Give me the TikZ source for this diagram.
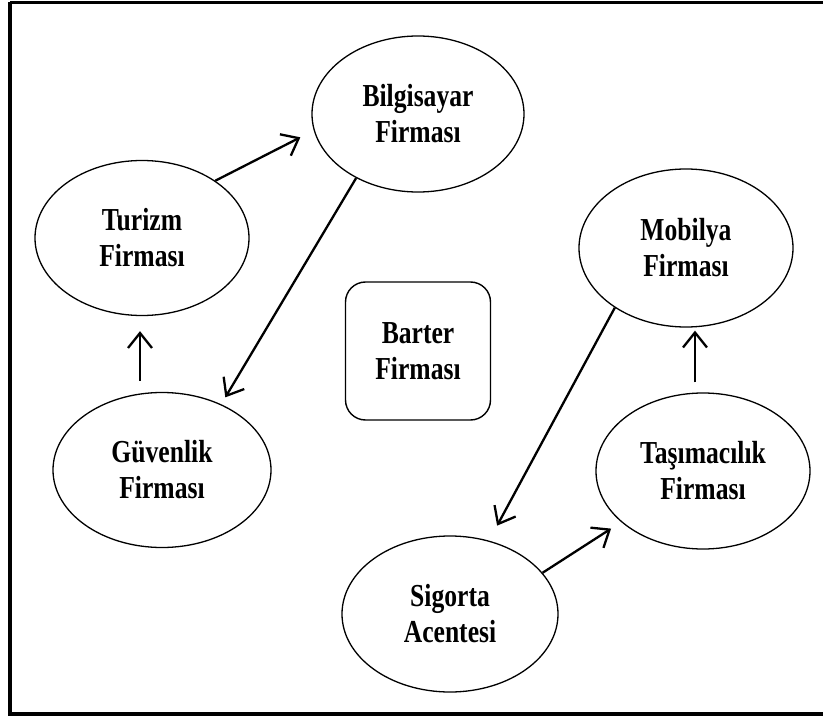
\documentclass[tikz,border=0pt]{standalone}
\usepackage{fontspec}
\setmainfont{Liberation Serif}
\newfontfamily\labfont[FakeStretch=0.8]{Liberation Serif}
\usetikzlibrary{shapes.geometric,arrows.meta}

\begin{document}
\begin{tikzpicture}[x=1pt,y=-1pt,
  firm/.style={ellipse,draw,line width=1.3pt,inner sep=0pt,
    minimum width=214pt,minimum height=155pt,align=center,
    font=\fontsize{32}{36}\selectfont\labfont\bfseries},
  hub/.style={rectangle,draw,line width=1.4pt,rounded corners=20pt,
    inner sep=0pt,minimum width=145pt,minimum height=138pt,align=center,
    font=\fontsize{32}{36}\selectfont\labfont\bfseries},
  arr/.style={line width=2.3pt,
    -{Straight Barb[length=15pt,width=24pt,line width=2.3pt]}},
  frame/.style={line width=3.5pt}
]
\useasboundingbox (0,0) rectangle (823,717);

% outer frame (right side runs past the edge)
\draw[frame] (10,2.5) -- (830,2.5) (10,2.5) -- (10,714) -- (830,714);

% firms
\node[firm,minimum width=212pt,minimum height=156pt] (bilg) at (418,114) {Bilgisayar\\Firması};
\node[firm] (tur)  at (142,238) {Turizm\\Firması};
\node[firm,minimum width=218pt] (guv)  at (162,470) {Güvenlik\\Firması};
\node[firm,minimum height=158pt] (mob)  at (686,248) {Mobilya\\Firması};
\node[firm,minimum height=156pt] (tas)  at (703,471) {Taşımacılık\\Firması};
\node[firm,minimum width=216pt,minimum height=156pt] (sig)  at (450,614) {Sigorta\\Acentesi};

% barter company in the middle
\node[hub] (bar) at (418,351) {Barter\\Firması};

% left exchange loop
\draw[arr,shorten >=15pt] (tur.38) -- (bilg.189);
\draw[arr,shorten >=8pt] (bilg.226) -- (guv.48);
\draw[arr] ([xshift=-22pt,yshift=11pt]guv.north) -- ([xshift=-2pt,yshift=-15pt]tur.south);

% right exchange loop
\draw[arr,shorten >=12pt] (sig.24) -- (tas.212);
\draw[arr] ([xshift=-8pt,yshift=10pt]tas.north) -- ([xshift=9pt,yshift=-3pt]mob.south);
\draw[arr,shorten >=17pt] (mob.220) -- (sig.62);
\end{tikzpicture}
\end{document}
